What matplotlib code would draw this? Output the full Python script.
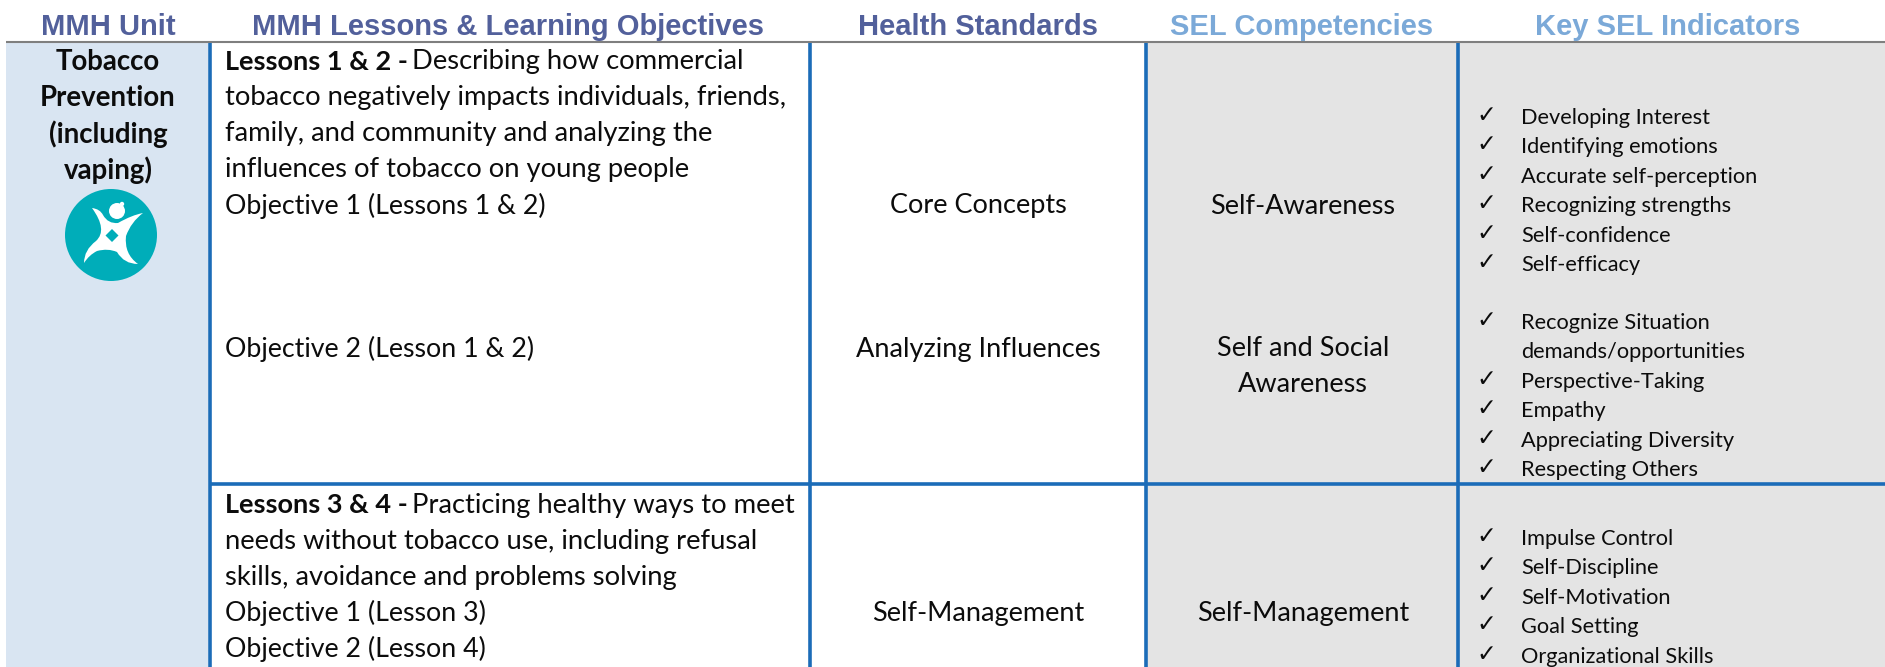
#!/usr/bin/env python3
from matplotlib import pyplot as plt
from matplotlib.patches import Circle, PathPatch, Rectangle
from matplotlib.path import Path

headers = ['MMH Unit', 'MMH Lessons & Learning Objectives', 'Health Standards',
           'SEL Competencies', 'Key SEL Indicators']
unit_lines = ['Tobacco', 'Prevention', '(including', 'vaping)']

lesson_a = ['Describing how commercial', 'tobacco negatively impacts individuals, friends,',
            'family, and community and analyzing the',
            'influences of tobacco on young people']
lesson_b = ['Practicing healthy ways to meet', 'needs without tobacco use, including refusal',
            'skills, avoidance and problems solving']
objectives_b = ['Objective 1 (Lesson 3)', 'Objective 2 (Lesson 4)']
indicators_a = ['Developing Interest', 'Identifying emotions', 'Accurate self-perception',
                'Recognizing strengths', 'Self-confidence', 'Self-efficacy']
indicators_b = ['Recognize Situation', 'demands/opportunities', 'Perspective-Taking',
                'Empathy', 'Appreciating Diversity', 'Respecting Others']
indicators_b_checks = [True, False, True, True, True, True]
indicators_c = ['Impulse Control', 'Self-Discipline', 'Self-Motivation', 'Goal Setting',
                'Organizational Skills']

W, H = 1885, 667
BLUE = '#1b6cb8'
BODY = 'Lato'
BODY_SIZE = 19.5
PROSE_SIZE = 19.7
OBJ_SIZE = 19.3
SMALL_SIZE = 15.7


def put(ax, x, y, s, size=BODY_SIZE, ha='left', **kw):
    kw.setdefault('color', '#0c0c0c')
    kw.setdefault('family', BODY)
    ax.text(x, y, s, fontsize=size, ha=ha, va='center', **kw)


def draw_list(ax, y0, step, items, checks=None):
    for i, item in enumerate(items):
        y = y0 + i * step
        if checks is None or checks[i]:
            put(ax, 1476, y - 3, '\u2713', size=17, family='DejaVu Sans')
        put(ax, 1521, y, item, size=SMALL_SIZE)


def draw_icon(ax):
    ax.add_patch(Circle((111, 235), 46, fc='#00adb9', ec='none'))
    body = [(Path.MOVETO, (92, 208)),
            (Path.CURVE3, (100, 209)), (Path.CURVE3, (103, 215)),
            (Path.CURVE3, (108, 224)), (Path.CURVE3, (118, 223)),
            (Path.CURVE3, (132, 215)), (Path.CURVE3, (143, 213)),
            (Path.CURVE3, (131, 222)), (Path.CURVE3, (126, 236)),
            (Path.CURVE3, (124, 254)), (Path.CURVE3, (138, 264)),
            (Path.CURVE3, (124, 264)), (Path.CURVE3, (117, 252)),
            (Path.CURVE3, (108, 248)), (Path.CURVE3, (97, 251)),
            (Path.CURVE3, (89, 255)), (Path.CURVE3, (84, 263)),
            (Path.CURVE3, (84, 250)), (Path.CURVE3, (96, 241)),
            (Path.CURVE3, (108, 230)), (Path.CURVE3, (92, 208)),
            (Path.CLOSEPOLY, (92, 208))]
    codes, verts = zip(*body)
    ax.add_patch(PathPatch(Path(verts, codes), fc='white', ec='none'))
    ax.add_patch(Circle((117, 211), 8, fc='white', ec='none'))
    ax.add_patch(Circle((122, 204), 2.2, fc='white', ec='none'))
    diamond = [(112, 229), (118.5, 235.5), (112, 242), (105.5, 235.5), (112, 229)]
    ax.add_patch(PathPatch(Path(diamond, closed=True), fc='#00adb9', ec='none'))


def main():
    fig = plt.figure(figsize=(W / 100, H / 100), dpi=100, facecolor='white')
    ax = fig.add_axes([0, 0, 1, 1])
    ax.set_xlim(0, W)
    ax.set_ylim(H, 0)
    ax.axis('off')

    # cell fills
    ax.add_patch(Rectangle((6, 43), 202, H - 43, fc='#d9e5f2', ec='none'))
    ax.add_patch(Rectangle((1146, 43), W - 1146, H - 43, fc='#e4e4e4', ec='none'))

    # grid lines
    ax.plot([6, W], [42, 42], color='#7f7f7f', lw=1.5, solid_capstyle='butt')
    ax.plot([210, W], [484, 484], color=BLUE, lw=2.6, solid_capstyle='butt')
    for x in [210, 810, 1146, 1458]:
        ax.plot([x, x], [43, H], color=BLUE, lw=2.6, solid_capstyle='butt')

    # header row
    for x, s, c in zip([108, 508, 978, 1302, 1668], headers,
                       ['#52609b', '#52609b', '#52609b', '#7ba9d8', '#7ba9d8']):
        ax.text(x, 27, s, fontsize=21, fontweight='bold', family='Liberation Sans',
                color=c, ha='center', va='center')

    # unit column
    for i, s in enumerate(unit_lines):
        put(ax, 108, 62 + i * 36, s, size=19.9, ha='center', fontweight='bold')
    draw_icon(ax)

    # lessons column
    put(ax, 225, 62, 'Lessons 1 & 2 -', fontweight='bold')
    put(ax, 412, 62, lesson_a[0], size=PROSE_SIZE)
    for i, s in enumerate(lesson_a[1:]):
        put(ax, 225, 98 + i * 36, s, size=PROSE_SIZE)
    put(ax, 225, 206, 'Objective 1 (Lessons 1 & 2)', size=OBJ_SIZE)
    put(ax, 225, 349, 'Objective 2 (Lesson 1 & 2)', size=OBJ_SIZE)
    put(ax, 225, 505, 'Lessons 3 & 4 -', fontweight='bold')
    put(ax, 412, 505, lesson_b[0], size=PROSE_SIZE)
    for i, s in enumerate(lesson_b[1:]):
        put(ax, 225, 541 + i * 36, s, size=PROSE_SIZE)
    for i, s in enumerate(objectives_b):
        put(ax, 225, 613 + i * 36, s, size=OBJ_SIZE)

    # standards column
    put(ax, 978, 206, 'Core Concepts', ha='center')
    put(ax, 978, 349, 'Analyzing Influences', ha='center')
    put(ax, 978, 613, 'Self-Management', ha='center')

    # competencies column
    put(ax, 1303, 206, 'Self-Awareness', ha='center')
    put(ax, 1303, 349, 'Self and Social', ha='center')
    put(ax, 1303, 385, 'Awareness', ha='center')
    put(ax, 1303, 613, 'Self-Management', ha='center')

    # indicators column
    draw_list(ax, 118, 29.4, indicators_a)
    draw_list(ax, 323, 29.4, indicators_b, indicators_b_checks)
    draw_list(ax, 539, 29.4, indicators_c)

    fig.savefig('out.png', dpi=100)


if __name__ == "__main__":
    main()
